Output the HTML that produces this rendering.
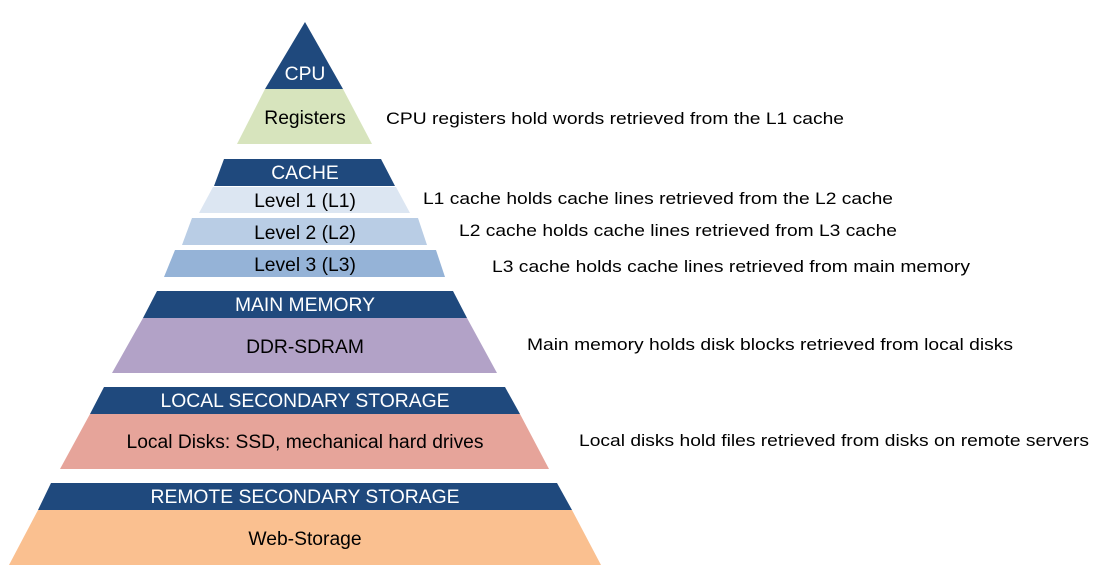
<!DOCTYPE html>
<html><head><meta charset="utf-8"><style>
html,body{margin:0;padding:0;background:#fff;}
svg{display:block;}
text{font-family:"Liberation Sans",Arial,sans-serif;}
</style></head><body>
<svg width="1099" height="579" viewBox="0 0 1099 579" xmlns="http://www.w3.org/2000/svg">
<rect width="1099" height="579" fill="#fff"/>
<polygon points="305,22 343,89 265,89" fill="#1f497d"/>
<polygon points="265,89 343,89 372,144 237,144" fill="#d7e4bd"/>
<polygon points="224,159 381,159 395,186 214,186" fill="#1f497d"/>
<polygon points="213,187 396,187 410,213 199,213" fill="#dce6f2"/>
<polygon points="192,218 418,218 427,245 182,245" fill="#b9cde5"/>
<polygon points="175,250 436,250 445,277 164,277" fill="#95b3d7"/>
<polygon points="157,291 453,291 467,318 143,318" fill="#1f497d"/>
<polygon points="143,318 467,318 497,373 112,373" fill="#b2a2c7"/>
<polygon points="104,387 505,387 520,414 90,414" fill="#1f497d"/>
<polygon points="90,414 520,414 549,469 60,469" fill="#e6a49a"/>
<polygon points="51,483 557,483 572,510 38,510" fill="#1f497d"/>
<polygon points="38,510 572,510 601,565 9,565" fill="#fac090"/>

<g font-size="19.3" text-anchor="middle">
<text x="305" y="80" fill="#fff">CPU</text>
<text x="305" y="124" fill="#000">Registers</text>
<text x="305" y="179" fill="#fff">CACHE</text>
<text x="305" y="207" fill="#000">Level 1 (L1)</text>
<text x="305" y="239" fill="#000">Level 2 (L2)</text>
<text x="305" y="271" fill="#000">Level 3 (L3)</text>
<text x="305" y="311" fill="#fff">MAIN MEMORY</text>
<text x="305" y="353" fill="#000">DDR-SDRAM</text>
<text x="305" y="407" fill="#fff" textLength="289" lengthAdjust="spacingAndGlyphs">LOCAL SECONDARY STORAGE</text>
<text x="305" y="448" fill="#000" textLength="357" lengthAdjust="spacingAndGlyphs">Local Disks: SSD, mechanical hard drives</text>
<text x="305" y="503" fill="#fff" textLength="309" lengthAdjust="spacingAndGlyphs">REMOTE SECONDARY STORAGE</text>
<text x="305" y="545" fill="#000">Web-Storage</text>
</g>
<g font-size="17" fill="#000">
<text x="386" y="124" textLength="458" lengthAdjust="spacingAndGlyphs">CPU registers hold words retrieved from the L1 cache</text>
<text x="423" y="204" textLength="470" lengthAdjust="spacingAndGlyphs">L1 cache holds cache lines retrieved from the L2 cache</text>
<text x="459" y="236" textLength="438" lengthAdjust="spacingAndGlyphs">L2 cache holds cache lines retrieved from L3 cache</text>
<text x="492" y="272" textLength="478" lengthAdjust="spacingAndGlyphs">L3 cache holds cache lines retrieved from main memory</text>
<text x="527" y="350" textLength="486" lengthAdjust="spacingAndGlyphs">Main memory holds disk blocks retrieved from local disks</text>
<text x="579" y="446" textLength="510" lengthAdjust="spacingAndGlyphs">Local disks hold files retrieved from disks on remote servers</text>
</g>
</svg>
</body></html>
